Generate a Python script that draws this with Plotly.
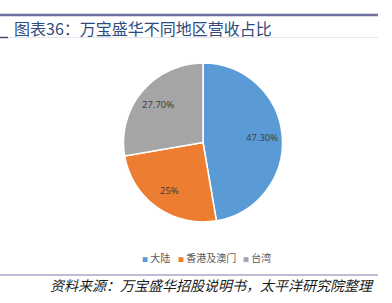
import math
import plotly.graph_objects as go

labels = ["大陆", "香港及澳门", "台湾"]
values = [47.3, 25.0, 27.7]
text_labels = ["47.30%", "25%", "27.70%"]
colors = ["#5B9BD5", "#ED7D31", "#A5A5A5"]

W, H = 392, 303
# pie geometry (pixels)
CX, CY, R = 203, 142.5, 79.5

fig = go.Figure()
fig.add_trace(go.Pie(
    labels=labels, values=values,
    textinfo="none",
    marker=dict(colors=colors, line=dict(color="white", width=1.5)),
    sort=False, direction="clockwise", rotation=0,
    domain=dict(x=[(CX - R)/W, (CX + R)/W], y=[(H - CY - R)/H, (H - CY + R)/H]),
    hoverinfo="label+percent",
    showlegend=False,
))

annotations = []
# data labels placed at slice mid-angles
total = sum(values)
cum = 0.0
for v, t in zip(values, text_labels):
    mid = (cum + v / 2) / total * 2 * math.pi
    cum += v
    r = 0.74 * R
    px = CX + r * math.sin(mid)
    py = CY - r * math.cos(mid)
    annotations.append(dict(text=t, xref="paper", yref="paper", x=px / W, y=1 - py / H,
                            xanchor="center", yanchor="middle", showarrow=False,
                            font=dict(size=9.5, color="#404040", family="Noto Sans, sans-serif")))

# legend (compact, Excel style)
leg_x = [142, 178, 243]
for lx, lab, col in zip(leg_x, labels, colors):
    annotations.append(dict(text=f"<span style='color:{col};font-size:6px'>■</span> {lab}",
                            xref="paper", yref="paper", x=(lx - 2) / W, y=1 - 257.5 / H,
                            xanchor="left", yanchor="middle", showarrow=False,
                            font=dict(size=10, color="#595959", family="Noto Sans CJK SC")))

annotations += [
    dict(text="图表36：万宝盛华不同地区营收占比", xref="paper", yref="paper",
         x=12/W, y=1-27.5/H, xanchor="left", yanchor="middle", showarrow=False,
         font=dict(size=16, color="#2F4A7D", family="Noto Sans CJK SC")),
    dict(text="<i>资料来源：万宝盛华招股说明书，太平洋研究院整理</i>", xref="paper", yref="paper",
         x=48/W, y=1-285/H, xanchor="left", yanchor="middle", showarrow=False,
         font=dict(size=14, color="#1a1a1a", family="Noto Sans CJK SC")),
]

shapes = [
    dict(type="line", xref="paper", yref="paper", x0=0, x1=378/W, y0=1-15/H, y1=1-15/H,
         line=dict(color="#6E6EA0", width=2.5)),
    dict(type="line", xref="paper", yref="paper", x0=0, x1=378/W, y0=1-37.5/H, y1=1-37.5/H,
         line=dict(color="#E6E6E6", width=1)),
    dict(type="line", xref="paper", yref="paper", x0=0, x1=8/W, y0=1-37.5/H, y1=1-37.5/H,
         line=dict(color="#44447A", width=1.5)),
    dict(type="line", xref="paper", yref="paper", x0=0, x1=378/W, y0=1-275/H, y1=1-275/H,
         line=dict(color="#7A7AA8", width=1)),
]

fig.update_layout(
    width=W, height=H,
    margin=dict(l=0, r=0, t=0, b=0),
    paper_bgcolor="white", plot_bgcolor="white",
    showlegend=False,
    shapes=shapes, annotations=annotations,
)

fig.write_html("out.html")
